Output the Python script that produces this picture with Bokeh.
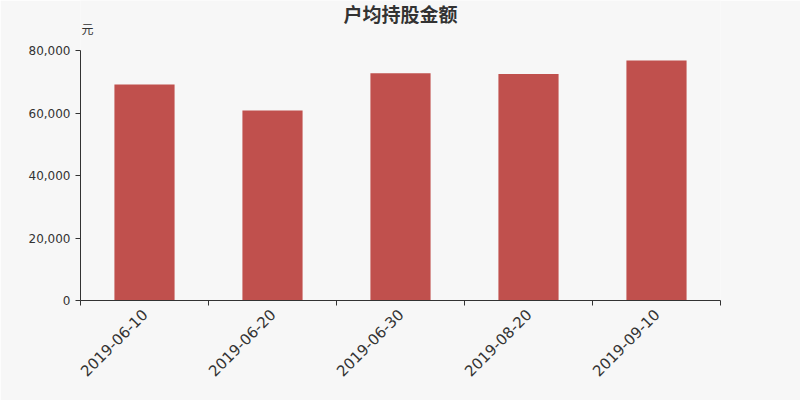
from math import pi
from bokeh.plotting import figure
from bokeh.models import Range1d, FixedTicker, NumeralTickFormatter, Label, ColumnDataSource
from bokeh.embed import file_html
from bokeh.resources import INLINE

title = "户均持股金额"
unit = "元"
dates = ["2019-06-10", "2019-06-20", "2019-06-30", "2019-08-20", "2019-09-10"]
values = [69100, 60800, 72700, 72500, 76800]
y_ticks = [0, 20000, 40000, 60000, 80000]

y_max = y_ticks[-1]
xs = [i + 0.5 for i in range(len(dates))]
src = ColumnDataSource(dict(x=xs, top=values))

# frame spans the full top area (300px tall, axis occupies the lower 250px)
p = figure(width=800, height=400, output_backend="svg", toolbar_location=None,
           x_range=Range1d(0, len(dates)), y_range=Range1d(0, y_max * 300 / 250),
           min_border_left=80, min_border_right=80, min_border_top=0, min_border_bottom=100)
p.background_fill_color = "#f7f7f7"
p.border_fill_color = "#f7f7f7"
p.outline_line_color = None
p.grid.visible = False

p.vbar(x="x", top="top", width=0.47, source=src, fill_color="#c0504d", line_color=None)

p.yaxis.bounds = (0, y_max)
p.yaxis.ticker = FixedTicker(ticks=y_ticks)
p.yaxis.formatter = NumeralTickFormatter(format="0,0")
p.yaxis.major_tick_in = 0
p.yaxis.major_tick_out = 5
p.yaxis.minor_tick_line_color = None
p.yaxis.axis_line_color = "#333333"
p.yaxis.major_tick_line_color = "#333333"
p.yaxis.major_label_text_color = "#333333"
p.yaxis.major_label_text_font = "DejaVu Sans"
p.yaxis.major_label_text_font_size = "12px"

p.xaxis.ticker = FixedTicker(ticks=xs, minor_ticks=list(range(len(dates) + 1)))
p.xaxis.major_label_overrides = {x: d for x, d in zip(xs, dates)}
p.xaxis.major_tick_line_color = None
p.xaxis.minor_tick_in = 0
p.xaxis.minor_tick_out = 5
p.xaxis.minor_tick_line_color = "#333333"
p.xaxis.axis_line_color = "#333333"
p.xaxis.major_label_orientation = pi / 4
p.xaxis.major_label_text_color = "#333333"
p.xaxis.major_label_text_font = "DejaVu Sans"
p.xaxis.major_label_text_font_size = "15px"

p.add_layout(Label(x=len(dates) / 2, y=y_max, y_offset=37, text=title, text_align="center",
                   text_baseline="middle", text_font="Noto Sans CJK SC", text_font_size="19px",
                   text_font_style="bold", text_color="#333333"))
p.add_layout(Label(x=0, y=y_max, x_offset=1, y_offset=22, text=unit, text_align="left",
                   text_baseline="middle", text_font="Noto Sans CJK SC", text_font_size="12px",
                   text_color="#333333"))

open("out.html", "w").write(file_html(p, INLINE))
